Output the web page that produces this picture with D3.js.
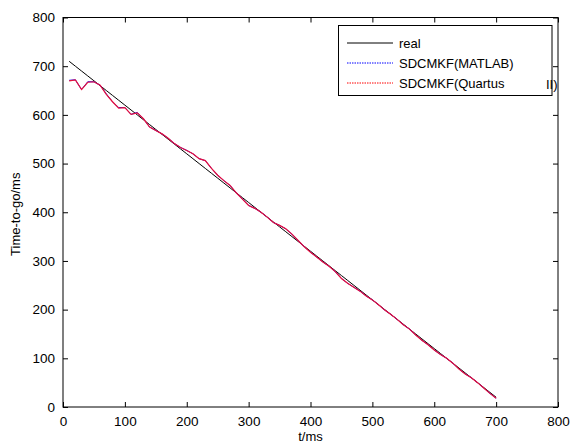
<!DOCTYPE html>
<html>
<head>
<meta charset="utf-8">
<script src="https://cdn.jsdelivr.net/npm/d3@7/dist/d3.min.js"></script>
<style>
  html, body { margin: 0; padding: 0; background: #fff; }
  svg { display: block; font-family: "Liberation Sans", Arial, sans-serif; }
</style>
</head>
<body>
<svg id="chart" width="572" height="445"></svg>
<script>
// ---- data ----
const time = [10,20,30,40,50,60,70,80,90,100,110,120,130,140,150,160,170,180,190,200,
  210,220,230,240,250,260,270,280,290,300,310,320,330,340,350,360,370,380,390,400,
  410,420,430,440,450,460,470,480,490,500,510,520,530,540,550,560,570,580,590,600,
  610,620,630,640,650,660,670,680,690,700];
const realValues = [710,700,690,680,670,660,650,640,630,620,610,600,590,580,570,560,550,540,530,520,
  510,500,490,480,470,460,450,440,430,420,410,400,390,380,370,360,350,340,330,320,
  310,300,290,280,270,260,250,240,230,220,210,200,190,180,170,160,150,140,130,120,
  110,100,90,80,70,60,50,40,30,20];
const matlabValues = [671,672,652,668,668,661,643,627,615,615,601,605,592,575,568,561,552,541,533,527,
  520,510,506,490,476,465,455,440,427,414,408,400,390,379,373,366,355,342,329,318,
  308,298,289,278,264,254,246,238,228,220,210,199,190,180,169,160,148,137,128,117,
  108,100,90,78,68,60,50,39,28,18];
const quartusValues = [670,672,652,667,668,661,642,627,614,615,601,604,592,575,568,561,552,541,533,527,
  520,510,506,490,476,465,455,440,427,414,408,400,390,379,373,366,355,342,329,318,
  308,298,289,278,264,254,246,238,228,220,210,199,190,180,169,160,148,137,128,117,
  108,100,90,78,68,60,50,39,28,18];
const xTicks = [0,100,200,300,400,500,600,700,800];
const yTicks = [0,100,200,300,400,500,600,700,800];
const legendLabels = ["real", "SDCMKF(MATLAB)", "SDCMKF(Quartus", "II)"];
const xLabel = "t/ms";
const yLabel = "Time-to-go/ms";

// ---- layout ----
const svg = d3.select("#chart");
const L = 63, R = 558, T = 17.5, B = 407;
const x = d3.scaleLinear().domain([0, 800]).range([L, R]);
const y = d3.scaleLinear().domain([0, 800]).range([B, T]);

// axes with inward ticks
const fontSize = 13.5;
const gx = svg.append("g").attr("transform", `translate(0,${B})`)
  .call(d3.axisBottom(x).tickValues(xTicks).tickSize(-5).tickPadding(9.5).tickFormat(d3.format("d")));
const gy = svg.append("g").attr("transform", `translate(${L},0)`)
  .call(d3.axisLeft(y).tickValues(yTicks).tickSize(-5).tickPadding(8).tickFormat(d3.format("d")));
const gxt = svg.append("g").attr("transform", `translate(0,${T})`)
  .call(d3.axisTop(x).tickValues(xTicks).tickSize(-5).tickFormat(""));
const gyr = svg.append("g").attr("transform", `translate(${R},0)`)
  .call(d3.axisRight(y).tickValues(yTicks).tickSize(-5).tickFormat(""));
[gx, gy, gxt, gyr].forEach(g => {
  g.select(".domain").remove();
  g.selectAll("line").attr("stroke", "#000").attr("stroke-width", 1);
  g.selectAll("text").attr("font-size", fontSize).attr("fill", "#000")
    .attr("font-family", "'Liberation Sans', Arial, sans-serif");
});
gx.selectAll("text").attr("dy", "0.71em");

// frame
svg.append("rect").attr("x", L).attr("y", T).attr("width", R - L).attr("height", B - T)
  .attr("fill", "none").attr("stroke", "#000").attr("stroke-width", 1);

// lines
const mk = vals => d3.line().x((d, i) => x(time[i])).y(d => y(d))(vals);
svg.append("path").attr("d", mk(realValues)).attr("fill", "none").attr("stroke", "#000").attr("stroke-width", 1);
svg.append("path").attr("d", mk(matlabValues)).attr("fill", "none").attr("stroke", "#0000ff").attr("stroke-width", 1);
svg.append("path").attr("d", mk(quartusValues)).attr("fill", "none").attr("stroke", "#e8103a").attr("stroke-width", 1.2);

// axis labels
svg.append("text").attr("x", (L + R) / 2).attr("y", 441).attr("text-anchor", "middle")
  .attr("font-size", 13).text(xLabel);
svg.append("text").attr("transform", `translate(20,${(T + B) / 2 + 2}) rotate(-90)`)
  .attr("text-anchor", "middle").attr("font-size", 13).text(yLabel);

// legend
const lg = svg.append("g");
lg.append("rect").attr("x", 338.5).attr("y", 25.5).attr("width", 213.5).attr("height", 70)
  .attr("fill", "#fff").attr("stroke", "#000").attr("stroke-width", 1);
const rows = [
  {label: legendLabels[0], color: "#000", dash: null, y: 43},
  {label: legendLabels[1], color: "#0000ff", dash: "1.5,1", y: 63},
  {label: legendLabels[2], color: "#ff0000", dash: "1.5,1", y: 83}
];
rows.forEach(r => {
  lg.append("line").attr("x1", 347).attr("x2", 393).attr("y1", r.y).attr("y2", r.y)
    .attr("stroke", r.color).attr("stroke-width", 1).attr("stroke-dasharray", r.dash);
  lg.append("text").attr("x", 399).attr("y", r.y).attr("dy", "0.35em")
    .attr("font-size", 13).text(r.label);
});
lg.append("text").attr("x", 546).attr("y", 84).attr("dy", "0.35em")
  .attr("font-size", 13).text(legendLabels[3]);
</script>
</body>
</html>
